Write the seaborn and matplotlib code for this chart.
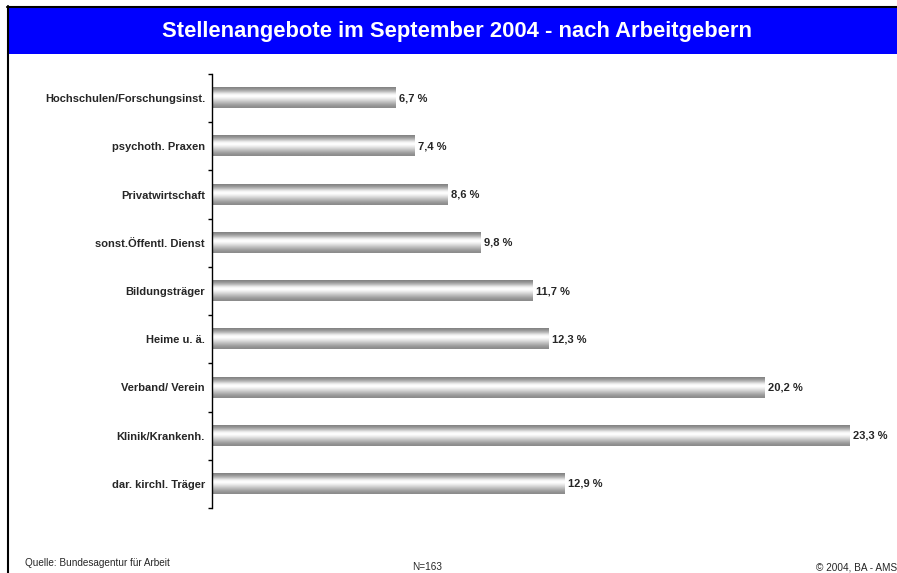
import numpy as np
import pandas as pd
import matplotlib
matplotlib.use("Agg")
import matplotlib.pyplot as plt
from matplotlib.lines import Line2D
from matplotlib.patches import Rectangle
import seaborn as sns

# data
categories = ["Hochschulen/Forschungsinst.", "psychoth. Praxen", "Privatwirtschaft",
              "sonst.Öffentl. Dienst", "Bildungsträger", "Heime u. ä.",
              "Verband/ Verein", "Klinik/Krankenh.", "dar. kirchl. Träger"]
shares = [6.7, 7.4, 8.6, 9.8, 11.7, 12.3, 20.2, 23.3, 12.9]

title = "Stellenangebote im September 2004 - nach Arbeitgebern"
source_note = "Quelle: Bundesagentur für Arbeit"
n_note = "N=163"
copyright_note = "© 2004, BA - AMS"

df = pd.DataFrame({"Arbeitgeber": categories, "Anteil": shares})

sns.set_style("white")
plt.rcParams["font.family"] = ["Liberation Sans", "DejaVu Sans"]

W, H = 897, 573
fig = plt.figure(figsize=(W / 100, H / 100), dpi=100)
ax = fig.add_axes([212 / W, 1 - 508 / H, (896 - 212) / W, (508 - 74) / H])

sns.barplot(data=df, x="Anteil", y="Arbeitgeber", orient="h", ax=ax,
            color="grey", width=0.42)

# cylinder-like grey shading on each bar
shade = np.array([0.52, 0.56, 0.61, 0.68, 0.76, 0.85, 0.93, 0.98, 1.0, 0.98,
                  0.94, 0.89, 0.84, 0.79, 0.74, 0.69, 0.64, 0.60, 0.57, 0.55])[:, None]
for p in ax.patches:
    x0, y0, w, h = p.get_x(), p.get_y(), p.get_width(), p.get_height()
    p.set_facecolor("none")
    p.set_edgecolor("none")
    ax.imshow(shade, extent=[x0, x0 + w, y0 + h, y0], aspect="auto",
              cmap="gray", vmin=0, vmax=1, interpolation="bilinear", zorder=2)
ax.set_xlim(0, 25)
ax.set_ylim(len(categories) - 0.5, -0.5)

for i, v in enumerate(shares):
    ax.annotate(f"{v:.1f} %".replace(".", ","), (v, i), xytext=(2.5, 0),
                textcoords="offset points", va="center", ha="left",
                fontsize=8, fontweight="bold")

# axis styling: only left spine, ticks between categories
for side in ["top", "right", "bottom"]:
    ax.spines[side].set_visible(False)
ax.spines["left"].set_color("black")
ax.spines["left"].set_linewidth(1)
ax.set_xticks([])
ax.set_xlabel("")
ax.set_ylabel("")
ax.set_yticks(range(len(categories)))
ax.set_yticklabels(categories, fontsize=8, fontweight="bold")
ax.tick_params(axis="y", which="major", length=0, pad=5)
ax.set_yticks(np.arange(-0.5, len(categories), 1), minor=True)
ax.tick_params(axis="y", which="minor", length=3, width=1, color="black", left=True)

# header banner and frame lines
fig.patches.append(Rectangle((8 / W, 1 - 54 / H), 1 - 8 / W, 47 / H,
                             transform=fig.transFigure, facecolor="#0000ff",
                             edgecolor="none", zorder=0))
fig.lines.append(Line2D([7 / W, 1], [1 - 6.5 / H, 1 - 6.5 / H],
                        transform=fig.transFigure, color="black", lw=1.5))
fig.lines.append(Line2D([8 / W, 8 / W], [0, 1 - 6 / H],
                        transform=fig.transFigure, color="black", lw=1.5))
fig.text(457 / W, 1 - 31 / H, title, ha="center", va="center", color="white",
         fontsize=15.8, fontweight="bold")

fig.text(25 / W, 1 - 563 / H, source_note, ha="left", va="center", fontsize=7.2)
fig.text(427 / W, 1 - 567 / H, n_note, ha="center", va="center", fontsize=7.2)
fig.text(816 / W, 1 - 567 / H, copyright_note, ha="left", va="center", fontsize=7.2)

fig.savefig("out.png", dpi=100)
